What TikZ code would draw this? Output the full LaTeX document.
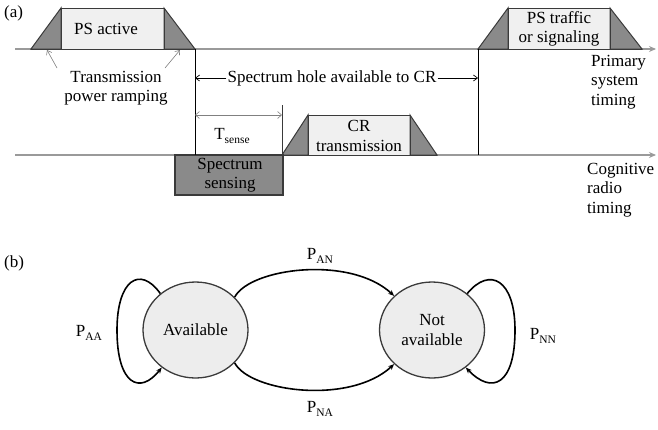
\documentclass[tikz,border=0pt]{standalone}
\usepackage{fontspec}
\setmainfont{Liberation Serif}
\usetikzlibrary{arrows.meta,shapes.geometric}
\definecolor{tri}{HTML}{8A8A8A}
\definecolor{lite}{HTML}{F0F0F0}
\definecolor{edge}{HTML}{3A3A3A}
\definecolor{tline}{HTML}{9A9A9A}
\definecolor{ellfill}{HTML}{EDEDED}
\newcommand{\mysub}[1]{\raisebox{-0.5ex}{\fontsize{11.5}{11.5}\selectfont #1}}
\tikzset{
  txt/.style={font=\fontsize{17}{19.5}\selectfont, inner sep=0pt, align=center},
  timeline/.style={draw=tline, line width=1.8pt, -{Stealth[length=7pt,width=6pt]}},
  ramp/.style={fill=tri, draw=edge, line width=1pt, line join=miter},
  litebox/.style={fill=lite, draw=edge, line width=1pt},
  ptr/.style={draw=gray, line width=0.6pt, -{Straight Barb[length=4pt,width=6pt]}},
  holearrow/.style={draw=black, line width=0.7pt, -{Straight Barb[length=4pt,width=6pt]}},
  state/.style={ellipse, draw=edge, fill=ellfill, line width=1.3pt, minimum width=105pt, minimum height=96pt, inner sep=0pt, font=\fontsize{17}{19.5}\selectfont, align=center},
  trans/.style={draw=black, line width=1.6pt, -{Stealth[length=6pt,width=5pt]}}
}
\begin{document}
\begin{tikzpicture}[x=1pt,y=-1pt]
\useasboundingbox (0,0) rectangle (658,429);

% labels
\node[txt, anchor=west] (la) at (4,13) {(a)};
\node[txt, anchor=west] (lb) at (4,263) {(b)};

% timelines
\coordinate (p0) at (15,49);
\coordinate (p1) at (656,49);
\coordinate (c0) at (15,155);
\coordinate (c1) at (656,155);
\draw[timeline] (p0) -- (p1);
\draw[timeline] (c0) -- (c1);

% PS active block
\fill[lite] (61,8) rectangle (164,49);
\draw[ramp] (31,49) -- (61,8) -- (61,49) -- cycle;
\draw[ramp] (164,8) -- (164,49) -- (195,49) -- cycle;
\draw[litebox, fill=none] (61,49) -- (61,8) -- (164,8) -- (164,49);
\draw[edge, line width=1pt] (31,49) -- (195,49);
\node[txt] (psa) at (106,29) {PS active};

% PS traffic block
\fill[lite] (508,8) rectangle (610,49);
\draw[ramp] (478,49) -- (508,8) -- (508,49) -- cycle;
\draw[ramp] (610,8) -- (610,49) -- (642,49) -- cycle;
\draw[litebox, fill=none] (508,49) -- (508,8) -- (610,8) -- (610,49);
\draw[edge, line width=1pt] (478,49) -- (642,49);
\node[txt] (pst) at (559,29) {PS traffic\\or signaling};

% CR transmission block
\fill[lite] (308,115) rectangle (410,155);
\draw[ramp] (282,155) -- (308,115) -- (308,155) -- cycle;
\draw[ramp] (410,115) -- (410,155) -- (437,155) -- cycle;
\draw[litebox, fill=none] (308,155) -- (308,115) -- (410,115) -- (410,155);
\draw[edge, line width=1pt] (282,155) -- (437,155);
\node[txt] (crt) at (359,136) {CR\\transmission};

% Spectrum sensing box
\draw[fill=tri, draw=edge, line width=1.3pt] (175,155) rectangle (283,195);
\node[txt] (ss) at (230,175) {Spectrum\\sensing};

% vertical markers
\coordinate (v1t) at (195,49);
\coordinate (v1b) at (195,155);
\coordinate (v2t) at (478,49);
\coordinate (v2b) at (478,155);
\draw[black, line width=0.8pt] (v1t) -- (v1b);
\draw[black, line width=0.8pt] (v2t) -- (v2b);
\coordinate (v3t) at (282,105);
\coordinate (v3b) at (282,155);
\draw[edge, line width=0.7pt] (v3t) -- (v3b);

% Spectrum hole
\node[txt] (hole) at (332,78) {Spectrum hole available to CR};
\coordinate (hl) at (195,78);
\coordinate (hr) at (478,78);
\draw[holearrow] ([xshift=-1pt]hole.west) -- (hl);
\draw[holearrow] ([xshift=1pt]hole.east) -- (hr);

% T sense
\coordinate (ts0) at (195,115);
\coordinate (ts1) at (282,115);
\draw[draw=gray, line width=0.6pt, {Straight Barb[length=4pt,width=7pt]}-{Straight Barb[length=4pt,width=7pt]}] (ts0) -- (ts1);
\node[txt] (tsense) at (232,136) {T\mysub{sense}};

% ramping label
\node[txt] (ramptxt) at (116,88) {Transmission\\power ramping};
\coordinate (r1s) at (57,68);
\coordinate (r1e) at (47,50);
\coordinate (r2s) at (165,68);
\coordinate (r2e) at (180,50);
\draw[ptr] (r1s) -- (r1e);
\draw[ptr] (r2s) -- (r2e);

% timing labels
\node[txt, anchor=west, align=left] (pstime) at (591,82) {Primary\\system\\timing};
\node[txt, anchor=west, align=left] (crtime) at (587,190) {Cognitive\\radio\\timing};

% (b) state diagram
\node[state] (av) at (195.5,330) {Available};
\node[state] (na) at (432,330) {Not\\available};

\draw[trans] (av.40) .. controls (250,268) and (350,255) .. (na.138);
\draw[trans] (av.-40) .. controls (250,392) and (350,405) .. (na.-138);
\draw[trans] (av.134) .. controls (140,265) and (117,280) .. (117,330)
  .. controls (117,385) and (140,395) .. (av.-132);
\draw[trans] (na.46) .. controls (490,266) and (515,280) .. (515,330)
  .. controls (515,385) and (492,395) .. (na.-48);

\node[txt] (pan) at (320,256) {P\mysub{AN}};
\node[txt] (pna) at (320,409) {P\mysub{NA}};
\node[txt] (paa) at (89,333) {P\mysub{AA}};
\node[txt] (pnn) at (543,336) {P\mysub{NN}};
\end{tikzpicture}
\end{document}
